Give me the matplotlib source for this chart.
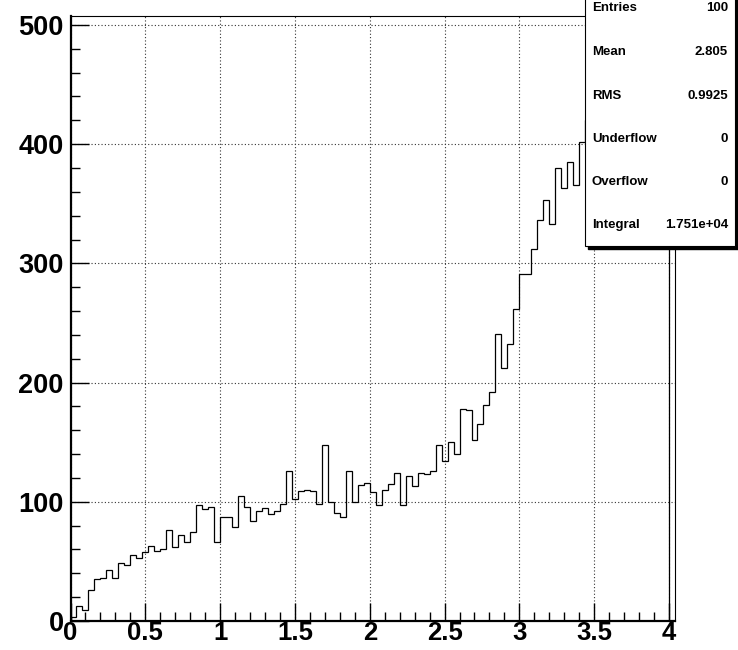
import matplotlib
matplotlib.use("Agg")
import matplotlib.pyplot as plt
from matplotlib.patches import Rectangle
from matplotlib.ticker import MultipleLocator
import numpy as np

plt.rcParams['font.family'] = ['Liberation Sans', 'DejaVu Sans']
plt.rcParams['font.weight'] = 'bold'

# histogram: 100 bins on [0, 4]
x_lo, x_hi, n_bins = 0.0, 4.0, 100
counts = [
    3, 13, 9, 26, 35, 36, 43, 36, 49, 47,
    55, 53, 58, 63, 59, 60, 76, 62, 72, 66,
    75, 97, 94, 96, 66, 87, 87, 79, 105, 96,
    84, 92, 95, 90, 92, 98, 126, 102, 109, 110,
    109, 98, 148, 100, 91, 87, 126, 100, 114, 116,
    108, 97, 110, 115, 124, 97, 122, 113, 124, 123,
    126, 148, 134, 150, 140, 178, 177, 152, 165, 181,
    192, 241, 212, 232, 262, 291, 291, 312, 336, 353,
    333, 380, 363, 385, 366, 402, 420, 445, 430, 460,
    470, 483, 450, 465, 440, 410, 400, 390, 380, 370,
]

stat_names = ["Entries", "Mean", "RMS", "Underflow", "Overflow", "Integral"]
stat_values = ["100", "2.805", "0.9925", "0", "0", "1.751e+04"]

edges = np.linspace(x_lo, x_hi, n_bins + 1)

W, H = 738, 650
fig = plt.figure(figsize=(W / 100, H / 100), dpi=100)
ax = fig.add_axes([70.5 / W, (H - 621) / H, (675 - 70.5) / W, (621 - 16) / H])

ax.stairs(counts, edges, baseline=0, color='black', linewidth=0.9, zorder=3)

ax.set_xlim(0, 4.04)
ax.set_ylim(0, 507.5)

ax.xaxis.set_minor_locator(MultipleLocator(0.1))
ax.yaxis.set_major_locator(MultipleLocator(100))
ax.yaxis.set_minor_locator(MultipleLocator(20))
ax.set_xticks(np.arange(0, 4.01, 0.5))
ax.set_xticklabels(['0', '0.5', '1', '1.5', '2', '2.5', '3', '3.5', '4'])

ax.grid(True, which='major', color='0.2', linestyle=(0, (1, 2)), linewidth=0.8)
ax.tick_params(which='both', direction='in', top=False, right=False)
ax.tick_params(which='major', length=13, width=1)
ax.tick_params(which='minor', length=6.5, width=1)
ax.tick_params(axis='x', which='major', pad=0, labelsize=18.5)
ax.tick_params(axis='y', which='major', pad=5, labelsize=19.5)
for lab in ax.get_xticklabels() + ax.get_yticklabels():
    lab.set_fontweight('bold')

ax.spines['left'].set_linewidth(1.6)
ax.spines['bottom'].set_linewidth(1.6)
ax.spines['top'].set_linewidth(0.8)
ax.spines['right'].set_linewidth(0.8)

# stats box (with shadow)
bx0, bx1, by1 = 585, 735, 246
shadow = Rectangle(((bx0 + 3) / W, (H - by1 - 3) / H), (bx1 - bx0) / W, 0.5,
                   transform=fig.transFigure, facecolor='black', edgecolor='black',
                   zorder=10)
box = Rectangle((bx0 / W, (H - by1) / H), (bx1 - bx0) / W, 0.5,
                transform=fig.transFigure, facecolor='white', edgecolor='black',
                linewidth=0.8, zorder=11)
fig.add_artist(shadow)
fig.add_artist(box)

row_y = [8, 52, 96, 139, 182, 225]
for name, val, yy in zip(stat_names, stat_values, row_y):
    fig.text(592 / W, 1 - yy / H, name, ha='left', va='center', fontsize=9.5,
             fontweight='bold', zorder=12)
    fig.text(728 / W, 1 - yy / H, val, ha='right', va='center', fontsize=9.5,
             fontweight='bold', zorder=12)

fig.savefig("out.png", dpi=100)
